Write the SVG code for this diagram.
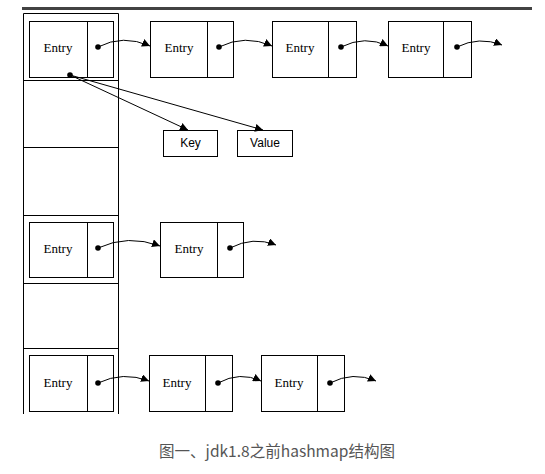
<svg xmlns="http://www.w3.org/2000/svg" width="545" height="474" viewBox="0 0 545 474">
<defs>
<marker id="tri" viewBox="0 0 10 10" refX="10" refY="5" markerWidth="8" markerHeight="8" markerUnits="userSpaceOnUse" orient="auto">
<path d="M0,0 L10,5 L0,10 Z" fill="#000"/>
</marker>
<style>
.box{fill:#fff;stroke:#000;stroke-width:1}
.ln{stroke:#000;stroke-width:1;fill:none}
.ent{font-family:"Liberation Serif","Times New Roman",serif;font-size:13px;fill:#000;text-anchor:middle}
.kv{font-family:"Liberation Sans",Arial,sans-serif;font-size:12px;fill:#000;text-anchor:middle}
.arr{stroke:#000;stroke-width:1;fill:none;marker-end:url(#tri)}
.dot{fill:#000}
</style>
</defs>
<rect width="545" height="474" fill="#fff"/>
<rect x="22" y="7" width="510" height="3" fill="#424242"/>

<g id="table">
<path class="ln" d="M23.5,414 V13.5 H118.5 V414"/>
<path class="ln" d="M23.5,80.5 H118.5 M23.5,147.5 H118.5 M23.5,215.5 H118.5 M23.5,283.5 H118.5 M23.5,348.5 H118.5"/>
</g>

<g id="r1e1"><rect class="box" x="29.5" y="21.5" width="84" height="56"/><line class="ln" x1="87.5" y1="21.5" x2="87.5" y2="77.5"/><text class="ent" x="58" y="52">Entry</text><circle class="dot" cx="98" cy="47" r="2.8"/><circle class="dot" cx="70" cy="75" r="2.8"/></g>
<g id="r1e2"><rect class="box" x="150.5" y="21.5" width="83" height="56"/><line class="ln" x1="207.5" y1="21.5" x2="207.5" y2="77.5"/><text class="ent" x="179" y="52">Entry</text><circle class="dot" cx="219" cy="47" r="2.8"/></g>
<g id="r1e3"><rect class="box" x="272.5" y="21.5" width="84" height="56"/><line class="ln" x1="328.5" y1="21.5" x2="328.5" y2="77.5"/><text class="ent" x="300" y="52">Entry</text><circle class="dot" cx="341" cy="47" r="2.8"/></g>
<g id="r1e4"><rect class="box" x="388.5" y="21.5" width="83" height="56"/><line class="ln" x1="443.5" y1="21.5" x2="443.5" y2="77.5"/><text class="ent" x="416" y="52">Entry</text><circle class="dot" cx="457" cy="47" r="2.8"/></g>

<g id="key"><rect class="box" x="163.5" y="130.5" width="54" height="26"/><text class="kv" x="190.5" y="147">Key</text></g>
<g id="value"><rect class="box" x="237.5" y="130.5" width="55" height="26"/><text class="kv" x="265" y="147">Value</text></g>

<g id="r2e1"><rect class="box" x="29.5" y="222.5" width="84" height="55"/><line class="ln" x1="87.5" y1="222.5" x2="87.5" y2="277.5"/><text class="ent" x="58" y="253">Entry</text><circle class="dot" cx="98" cy="248" r="2.8"/></g>
<g id="r2e2"><rect class="box" x="160.5" y="222.5" width="83" height="55"/><line class="ln" x1="217.5" y1="222.5" x2="217.5" y2="277.5"/><text class="ent" x="189" y="253">Entry</text><circle class="dot" cx="230" cy="248" r="2.8"/></g>

<g id="r3e1"><rect class="box" x="29.5" y="355.5" width="84" height="56"/><line class="ln" x1="87.5" y1="355.5" x2="87.5" y2="411.5"/><text class="ent" x="58" y="387">Entry</text><circle class="dot" cx="98" cy="383" r="2.8"/></g>
<g id="r3e2"><rect class="box" x="149.5" y="355.5" width="83" height="56"/><line class="ln" x1="205.5" y1="355.5" x2="205.5" y2="411.5"/><text class="ent" x="177" y="387">Entry</text><circle class="dot" cx="218" cy="383" r="2.8"/></g>
<g id="r3e3"><rect class="box" x="261.5" y="355.5" width="83" height="56"/><line class="ln" x1="317.5" y1="355.5" x2="317.5" y2="411.5"/><text class="ent" x="289" y="387">Entry</text><circle class="dot" cx="330" cy="383" r="2.8"/></g>

<g id="connectors">
<path class="arr" d="M98,47 Q123,34 150,46"/>
<path class="arr" d="M219,47 Q245,34 272,46"/>
<path class="arr" d="M341,47 Q365,35 388,46"/>
<path class="arr" d="M457,47 Q479,36 502,45"/>
<path class="arr" d="M70,75 L188,130"/>
<path class="arr" d="M70,75 L263,130"/>
<path class="arr" d="M98,248 Q128,234 160,246"/>
<path class="arr" d="M230,248 Q253,236 276,245"/>
<path class="arr" d="M98,383 Q123,371 149,381"/>
<path class="arr" d="M218,383 Q240,371 261,381"/>
<path class="arr" d="M330,383 Q353,371 376,381"/>
</g>

<text x="277" y="457" font-family="'Noto Sans CJK SC','Liberation Sans',sans-serif" font-size="15.5" fill="#555" text-anchor="middle" textLength="236" lengthAdjust="spacingAndGlyphs">图一、jdk1.8之前hashmap结构图</text>
</svg>
